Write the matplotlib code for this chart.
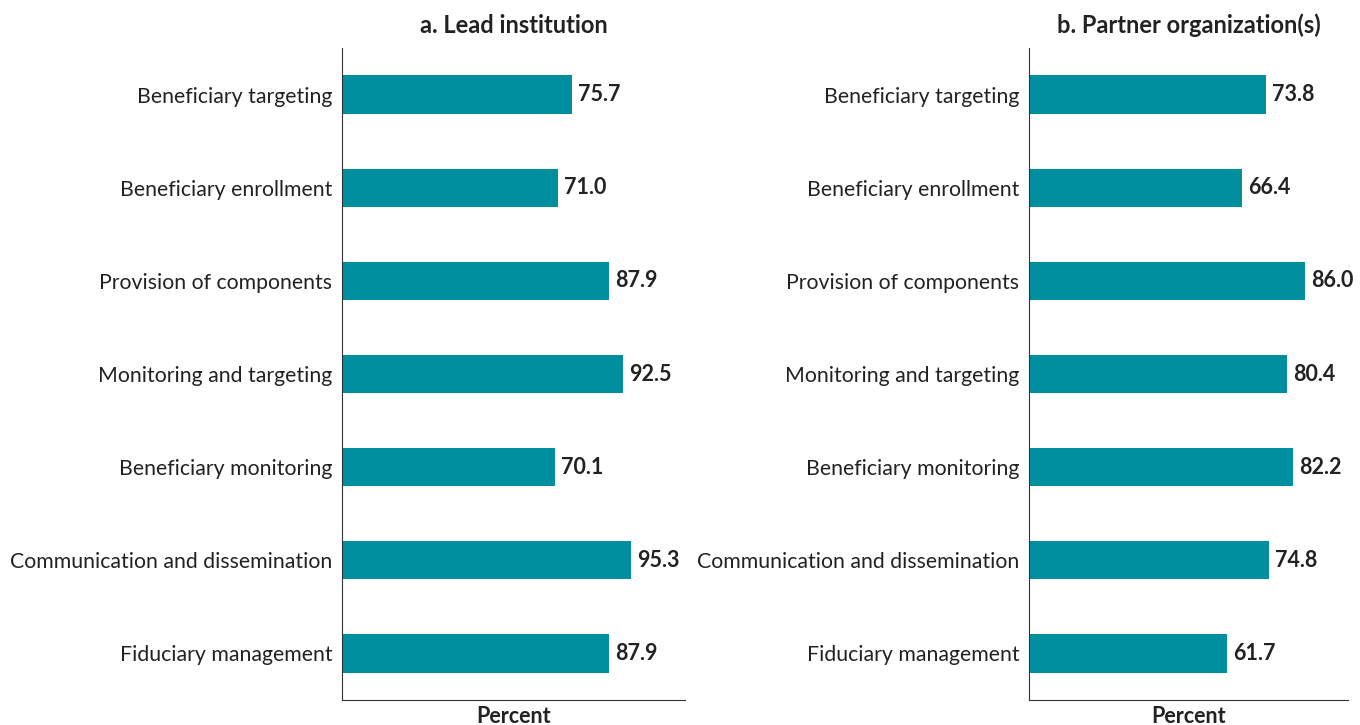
import matplotlib.pyplot as plt

plt.rcParams['font.family'] = ['Lato', 'DejaVu Sans']

categories = ["Beneficiary targeting", "Beneficiary enrollment", "Provision of components",
              "Monitoring and targeting", "Beneficiary monitoring",
              "Communication and dissemination", "Fiduciary management"]
lead_values = [75.7, 71.0, 87.9, 92.5, 70.1, 95.3, 87.9]
partner_values = [73.8, 66.4, 86.0, 80.4, 82.2, 74.8, 61.7]
titles = ["a. Lead institution", "b. Partner organization(s)"]

bar_color = "#008F9F"
text_color = "#222222"

fig = plt.figure(figsize=(13.6, 7.25), dpi=100)
# axes in figure fractions: [left, bottom, width, height]
ax1 = fig.add_axes([342 / 1360, 1 - 700 / 725, 343 / 1360, 652 / 725])
ax2 = fig.add_axes([1029 / 1360, 1 - 700 / 725, 319 / 1360, 652 / 725])


def draw_panel(ax, values, title, xmax):
    y = range(len(categories))
    ax.barh(y, values, height=0.41, color=bar_color)
    for i, v in enumerate(values):
        ax.annotate("%.1f" % v, (v, i), xytext=(4.5, 0), textcoords="offset points",
                    va="center", ha="left", fontsize=15.5, fontweight="bold", color=text_color)
    ax.set_ylim(len(categories) - 0.5, -0.5)
    ax.set_xlim(0, xmax)
    ax.set_yticks(list(y))
    ax.set_yticklabels(categories, fontsize=15.3, color=text_color)
    ax.tick_params(axis="y", length=0, pad=7)
    ax.set_xticks([])
    ax.spines["top"].set_visible(False)
    ax.spines["right"].set_visible(False)
    ax.spines["left"].set_color("#333333")
    ax.spines["bottom"].set_color("#333333")
    ax.set_title(title, fontsize=17, fontweight="bold", color=text_color, pad=11)
    ax.set_xlabel("Percent", fontsize=15.5, fontweight="bold", color=text_color, labelpad=4)


draw_panel(ax1, lead_values, titles[0], 113)
draw_panel(ax2, partner_values, titles[1], 99.5)

fig.savefig("out.png", dpi=100)
